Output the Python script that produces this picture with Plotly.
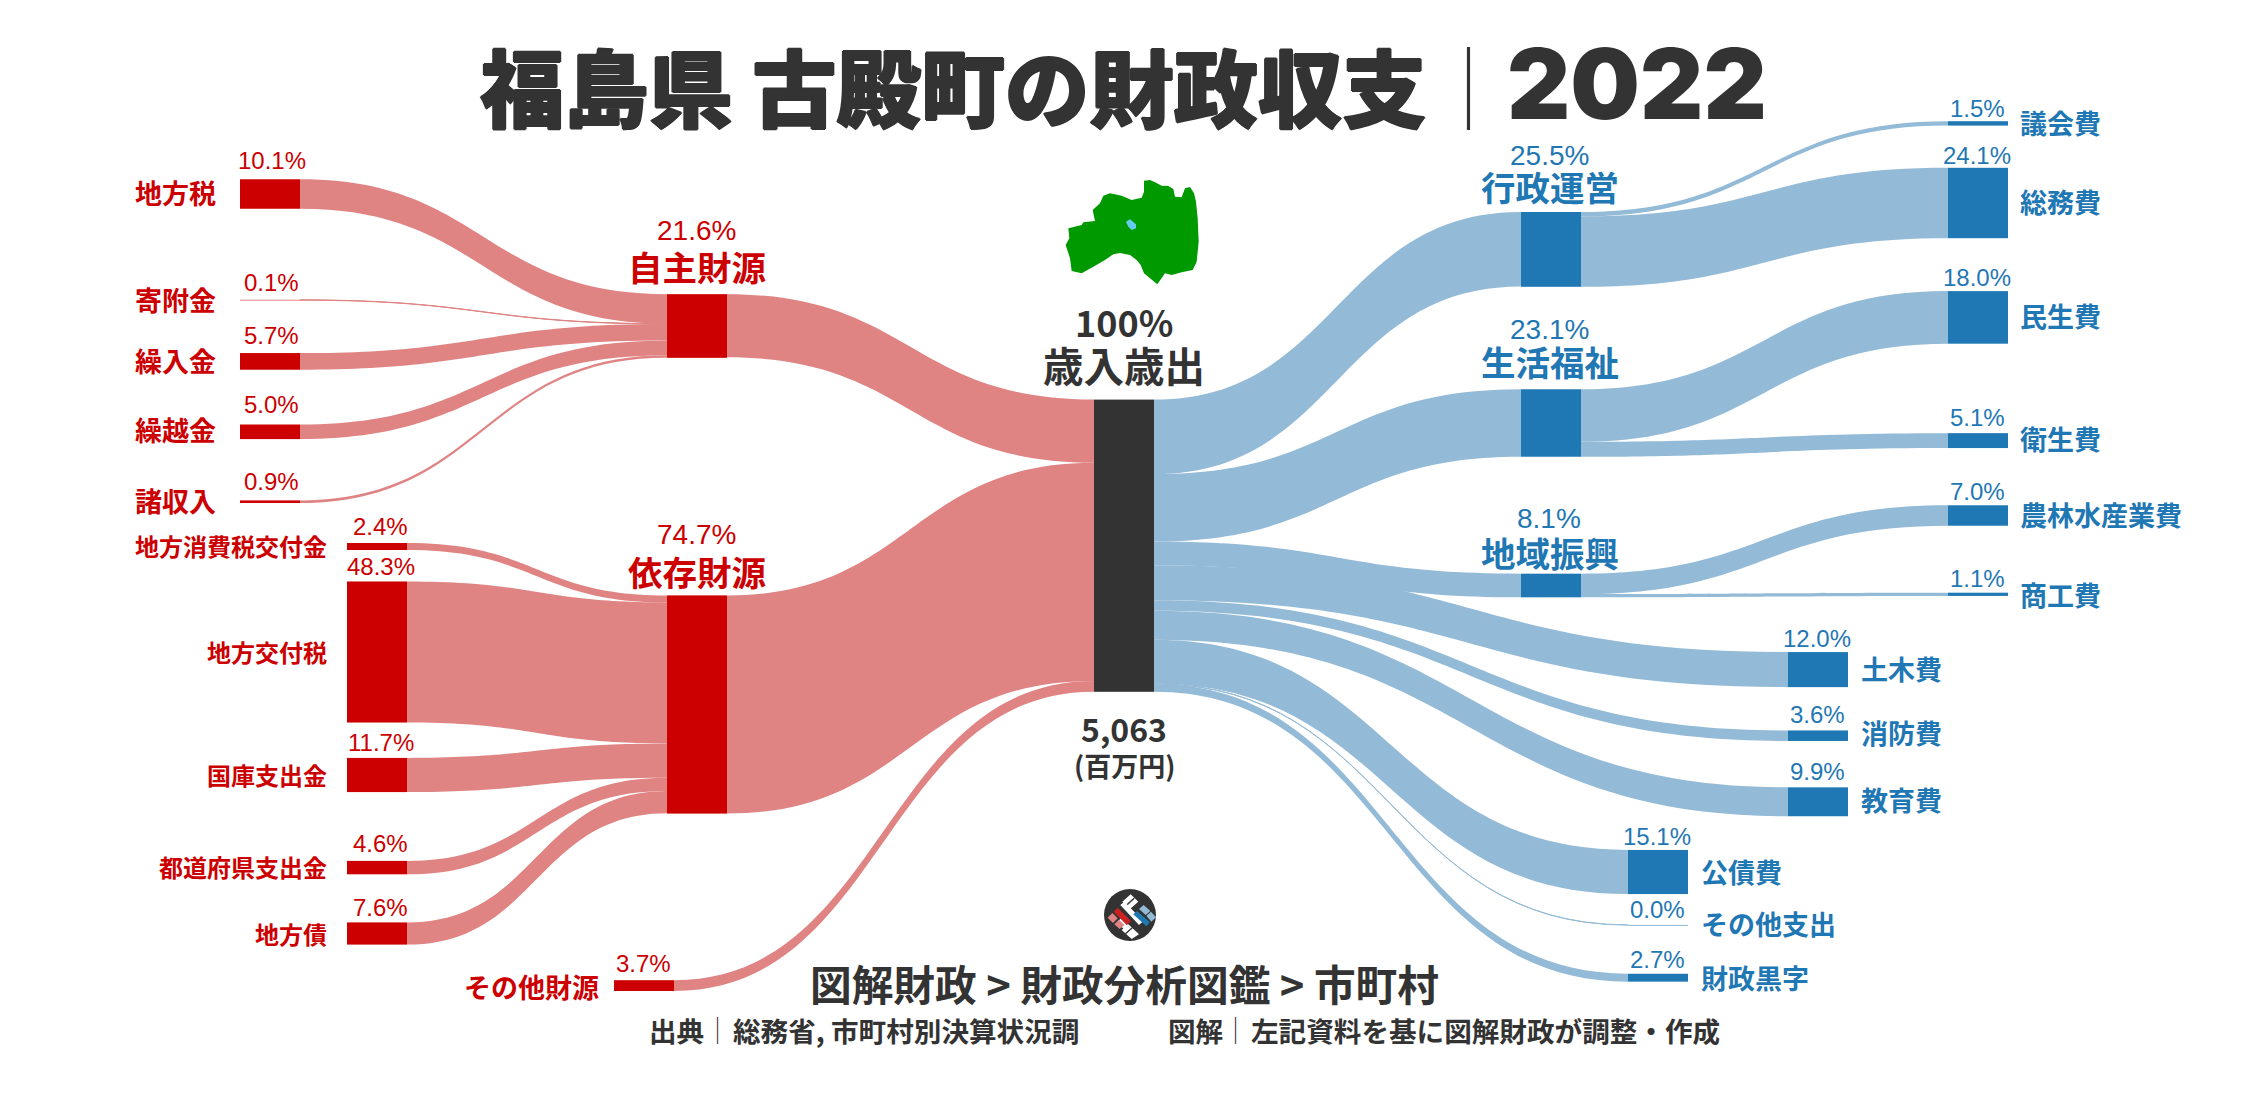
import plotly.graph_objects as go

W, H = 2247, 1096
JP = "Noto Sans CJK JP"
LAT = "Liberation Sans"
RED, RED_L = "#CC0000", "#E08383"
BLUE, BLUE_L = "#1F77B4", "#93BAD6"
DARK = "#333333"

# ---- data (percent of total revenue / expenditure) ----
revenue_sources = ["地方税", "寄附金", "繰入金", "繰越金", "諸収入",
                   "地方消費税交付金", "地方交付税", "国庫支出金", "都道府県支出金", "地方債"]
revenue_values = [10.1, 0.1, 5.7, 5.0, 0.9, 2.4, 48.3, 11.7, 4.6, 7.6]
revenue_groups = ["自主財源", "自主財源", "自主財源", "自主財源", "自主財源",
                  "依存財源", "依存財源", "依存財源", "依存財源", "依存財源"]
group_names = ["自主財源", "依存財源", "その他財源"]
group_values = [21.6, 74.7, 3.7]
center_name = "歳入歳出"
mid_names = ["行政運営", "生活福祉", "地域振興"]
mid_values = [25.5, 23.1, 8.1]
exp_names = ["議会費", "総務費", "民生費", "衛生費", "農林水産業費", "商工費"]
exp_values = [1.5, 24.1, 18.0, 5.1, 7.0, 1.1]
exp_groups = ["行政運営", "行政運営", "生活福祉", "生活福祉", "地域振興", "地域振興"]
direct_names = ["土木費", "消防費", "教育費", "公債費", "その他支出", "財政黒字"]
direct_values = [12.0, 3.6, 9.9, 15.1, 0.04, 2.7]

# ---- layout of the nodes, in page pixels (centre of each node) ----
rev_pos = [(270, 194), (270, 300), (270, 361.4), (270, 431.8), (270, 501.7),
           (377, 546.5), (377, 652), (377, 775), (377, 867.6), (377, 933.5)]
group_pos = [(697, 326), (697, 704.5), (644, 985.6)]
center_pos = (1124, 545.7)
mid_pos = [(1551, 249.4), (1551, 423), (1551, 585.5)]
exp_pos = [(1978, 123.4), (1978, 203), (1978, 317.4), (1978, 440.6), (1978, 515.5), (1978, 594.3)]
direct_pos = [(1818, 669.6), (1818, 735.7), (1818, 801.8), (1658, 872), (1658, 925), (1658, 977.7)]

names = revenue_sources + group_names + [center_name] + mid_names + exp_names + direct_names
pos = rev_pos + group_pos + [center_pos] + mid_pos + exp_pos + direct_pos
idx = {n: i for i, n in enumerate(names)}
node_colors = ([RED] * 13) + [DARK] + ([BLUE] * 15)

src, tgt, val, col = [], [], [], []
def link(a, b, v, c):
    src.append(idx[a]); tgt.append(idx[b]); val.append(v); col.append(c)

for n, g, v in zip(revenue_sources, revenue_groups, revenue_values):
    link(n, g, v, RED_L)
for n, v in zip(group_names, group_values):
    link(n, center_name, v, RED_L)
for n, v in zip(mid_names, mid_values):
    link(center_name, n, v, BLUE_L)
for n, g, v in zip(exp_names, exp_groups, exp_values):
    link(g, n, v, BLUE_L)
for n, v in zip(direct_names, direct_values):
    link(center_name, n, v, BLUE_L)

# the sankey's value scale follows the height of its domain
DOM_TOP, DOM_H = 118.0, 877.5

fig = go.Figure(go.Sankey(
    arrangement="fixed",
    domain=dict(x=[0, 1], y=[1 - (DOM_TOP + DOM_H) / H, 1 - DOM_TOP / H]),
    textfont=dict(size=1, color="rgba(0,0,0,0)"),
    hoverinfo="none",
    node=dict(
        label=[""] * len(names),
        x=[p[0] / W for p in pos],
        y=[(p[1] - DOM_TOP) / DOM_H for p in pos],
        pad=58.5,
        thickness=60,
        color=node_colors,
        line=dict(width=0),
        hoverinfo="none",
    ),
    link=dict(source=src, target=tgt, value=val, color=col, hoverinfo="none"),
))

ann = []
HEAVY = "1px 0 0 #333333, -1px 0 0 #333333, 0 1px 0 #333333, 0 -1px 0 #333333"
def text(s, x, y, size, color, family=JP, weight=700, anchor="center", shadow=None):
    f = dict(family=family, size=size, color=color, weight=weight)
    if shadow:
        f["shadow"] = shadow
    ann.append(dict(text=s, x=x / W, y=1 - y / H, xref="paper", yref="paper", showarrow=False,
                    xanchor=anchor, yanchor="middle", font=f))
def pct(v, x, y, color, size=24):
    text(f"{v:.1f}%", x, y, size, color, family=LAT, weight=400)

# title and footer
text("福島県 古殿町の財政収支", 953, 84, 84.3, DARK, weight=900, shadow=HEAVY)
text("｜", 1468, 84, 83, DARK, weight=300)
text("2022", 1637, 84, 98, DARK, family="Inter", weight=900)
text("図解財政 > 財政分析図鑑 > 市町村", 1124, 982.5, 41.7, DARK)
text("出典", 676, 1029.6, 27.6, DARK)
text("｜", 717, 1029.6, 27, DARK, weight=300)
text("総務省, 市町村別決算状況調", 731, 1029.6, 27.6, DARK, anchor="left")
text("図解", 1195, 1029.6, 27.6, DARK)
text("｜", 1235, 1029.6, 27, DARK, weight=300)
text("左記資料を基に図解財政が調整・作成", 1249, 1029.6, 27.6, DARK, anchor="left")

# centre
text("100%", 1124, 320.7, 36, DARK)
text(center_name, 1124, 364, 40.5, DARK)
text("5,063", 1124, 728, 32, DARK)
text("(百万円)", 1124, 765, 27, DARK)

# left labels
left_label_right = [218] * 5 + [329] * 5
left_label_y = [192, 299.5, 361, 429, 500.5, 545, 651, 774.5, 866, 933.5]
left_label_size = [27] * 5 + [24] * 5
pct_y = [161, 282.4, 335.5, 404.7, 481.6, 526.7, 566, 742.3, 843.4, 907]
for n, v, p, rx, ly, ls, py in zip(revenue_sources, revenue_values, rev_pos,
                                   left_label_right, left_label_y, left_label_size, pct_y):
    text(n, rx, ly, ls, RED, anchor="right")
    pct(v, p[0] + 1.5 + 2 * (p[0] > 300), py, RED)
text("その他財源", 600.5, 986.6, 27, RED, anchor="right")
pct(group_values[2], 643, 963, RED)

# group heads
pct(group_values[0], 696, 230, RED, 28)
text(group_names[0], 697, 265.6, 34.5, RED)
pct(group_values[1], 696, 535, RED, 28)
text(group_names[1], 697, 570.7, 34.5, RED)
for n, v, ty, py in zip(mid_names, mid_values, [186, 360.7, 552], [155.5, 329.6, 518]):
    pct(v, 1549, py, BLUE, 28)
    text(n, 1550, ty, 34.5, BLUE)

# right leaves
exp_pct_y = [108.4, 155, 278, 417, 491, 578.4]
exp_lab_y = [123, 202, 316, 438, 514.5, 594.5]
for n, v, p, py, ly in zip(exp_names, exp_values, exp_pos, exp_pct_y, exp_lab_y):
    pct(v, p[0] - 1, py, BLUE)
    text(n, 2017.5, ly, 27, BLUE, anchor="left")
dir_pct_y = [638, 714, 771, 836.4, 909, 959.4]
dir_lab_y = [668.6, 733, 799.7, 871.3, 923.7, 977]
for n, v, p, py, ly in zip(direct_names, direct_values, direct_pos, dir_pct_y, dir_lab_y):
    pct(v, p[0] - 1, py, BLUE)
    text(n, p[0] + 40.5, ly, 27, BLUE, anchor="left")

# decorative map and logo (traced shapes, in 3x zoom pixels of their own boxes)
def path(points, ox, oy, k=3.0):
    out = []
    for i, (x, y) in enumerate(points):
        px = (ox + x / k) / W
        py = 1 - (oy + y / k) / H
        out.append(("M" if i == 0 else "L") + f"{px:.5f},{py:.5f}")
    return " ".join(out) + " Z"

map_outline = [(282,47),(300,45),(315,52),(335,62),(355,63),(370,72),(375,95),(395,97),(405,70),(420,66),
               (432,85),(438,110),(443,160),(446,230),(440,290),(428,315),(395,322),(365,330),(345,325),
               (322,358),(300,340),(282,325),(272,300),(260,285),(240,270),(210,264),(190,268),(165,285),
               (130,305),(95,325),(65,318),(60,280),(47,240),(58,220),(55,190),(95,180),(100,172),(135,168),
               (128,135),(150,115),(160,92),(180,85),(215,92),(245,105),(275,98),(282,80)]
lake = [(228,170),(240,163),(258,178),(258,190),(245,195),(235,185)]
shapes = [dict(type="path", xref="paper", yref="paper", path=path(map_outline, 1050, 165),
               fillcolor="#009900", line=dict(width=0), layer="above"),
          dict(type="path", xref="paper", yref="paper", path=path(lake, 1050, 165),
               fillcolor="#66CCEE", line=dict(width=0), layer="above")]
shapes.append(dict(type="circle", xref="paper", yref="paper",
                   x0=(1130 - 26) / W, x1=(1130 + 26) / W, y0=1 - (915 + 26) / H, y1=1 - (915 - 26) / H,
                   fillcolor=DARK, line=dict(width=0), layer="above"))
logo = [
    ("#FFFFFF", [(82,50),(107,28),(130,50),(105,72)]),
    ("#333333", [(92,60),(116,38),(119,41),(95,63)]),
    ("#FFFFFF", [(76,60),(88,50),(145,108),(132,120)]),
    ("#FFFFFF", [(80,135),(100,118),(132,148),(110,162)]),
    ("#333333", [(90,145),(110,127),(113,130),(93,148)]),
    ("#FFFFFF", [(66,112),(78,100),(108,128),(94,140)]),
    ("#CC2222", [(56,80),(68,68),(108,108),(95,120)]),
    ("#E08383", [(38,98),(52,84),(68,100),(54,114)]),
    ("#E08383", [(58,118),(72,104),(88,120),(74,132)]),
    ("#1F77B4", [(115,88),(126,78),(165,112),(154,124)]),
    ("#93BAD6", [(132,72),(146,60),(166,78),(152,90)]),
    ("#93BAD6", [(154,92),(168,80),(183,97),(169,110)]),
]
for c, pts in logo:
    shapes.append(dict(type="path", xref="paper", yref="paper", path=path(pts, 1095, 885),
                       fillcolor=c, line=dict(width=0), layer="above"))

fig.update_layout(width=W, height=H, margin=dict(l=0, r=0, t=0, b=0), paper_bgcolor="#FFFFFF",
                  annotations=ann, shapes=shapes, showlegend=False)
fig.write_html("out.html", config=dict(displayModeBar=False),
               post_script="document.body.style.margin='0';document.body.style.overflow='hidden';")
